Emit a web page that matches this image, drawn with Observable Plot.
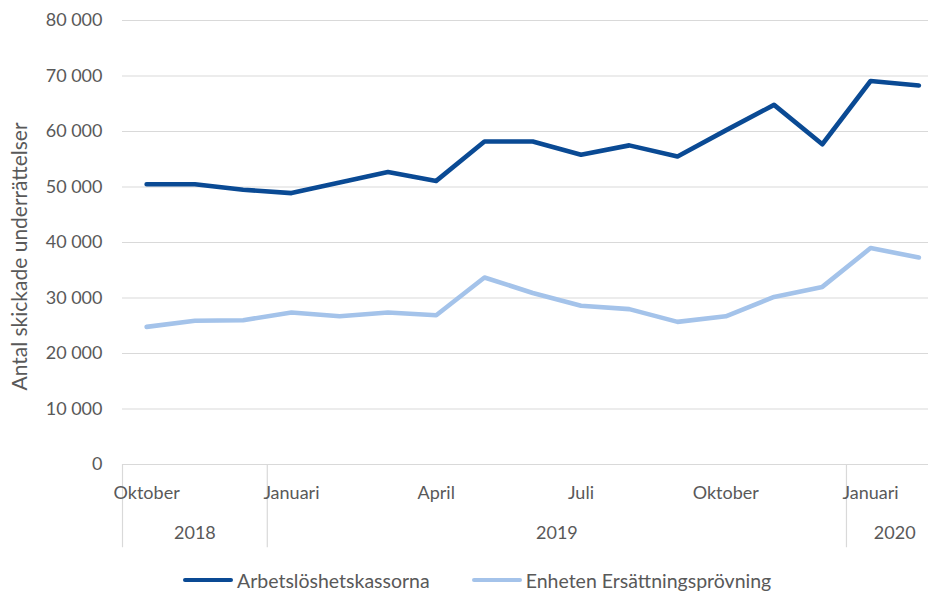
<!DOCTYPE html>
<html><head><meta charset="utf-8">
<script src="https://cdn.jsdelivr.net/npm/d3@7"></script>
<script src="https://cdn.jsdelivr.net/npm/@observablehq/plot@0.6"></script>
<style>
body{margin:0;background:#fff;font-family:Lato,"Open Sans",sans-serif;}
#legend{display:flex;align-items:center;padding-left:183px;height:24px;margin-top:8px;font-size:19.5px;color:#595959;}
.item{display:flex;align-items:center;}
.swatch{width:50px;height:4.5px;border-radius:2px;margin-right:4px;}
</style>
</head><body>
<div id="chart"></div>
<div id="legend"></div>
<script>
const months = ["Oktober","November","December","Januari","Februari","Mars","April","Maj","Juni","Juli","Augusti","September","Oktober","November","December","Januari","Februari"];
const monthYears = [2018,2018,2018,2019,2019,2019,2019,2019,2019,2019,2019,2019,2019,2019,2019,2020,2020];
const arbetsloshetskassorna = [50500,50500,49500,48900,50800,52700,51100,58200,58200,55800,57500,55500,60200,64800,57700,69100,68300];
const ersattningsprovning = [24800,25900,26000,27400,26700,27400,26900,33700,30900,28600,28000,25700,26700,30200,32000,39000,37300];
const seriesNames = ["Arbetslöshetskassorna","Enheten Ersättningsprövning"];
const seriesColors = ["#0A4A94","#A4C3EA"];
const shownMonthTicks = [0,3,6,9,12,15];
const yTicks = [0,10000,20000,30000,40000,50000,60000,70000,80000];
const yLabel = "Antal skickade underrättelser";

const rows = [];
months.forEach((m,i)=>{
  rows.push({i, series: seriesNames[0], value: arbetsloshetskassorna[i]});
  rows.push({i, series: seriesNames[1], value: ersattningsprovning[i]});
});
const yearList = Array.from(new Set(monthYears));
const yearGroups = yearList.map(y=>{
  const idx = monthYears.map((v,i)=>v===y?i:-1).filter(i=>i>=0);
  return {year: String(y), start: idx[0]-0.5, center: (idx[0]+idx[idx.length-1])/2};
});
const fmt = v => d3.format(",")(v).replace(/,/g,"\u00a0");

const chart = Plot.plot({
  width: 929, height: 560,
  marginLeft: 122, marginRight: 1, marginTop: 20, marginBottom: 96,
  style: {fontFamily: "Lato, 'Open Sans', sans-serif", fontSize: "18px", color: "#595959", background: "#fff"},
  x: {type: "linear", domain: [-0.5, 16.2]},
  y: {domain: [0, 80000]},
  color: {domain: seriesNames, range: seriesColors},
  marks: [
    Plot.ruleY(yTicks, {stroke: "#d9d9d9", strokeWidth: 1.2}),
    Plot.ruleX(yearGroups, {x: "start", y1: 0, y2: -15000, stroke: "#d9d9d9", strokeWidth: 1.2, clip: false}),
    Plot.axisY({ticks: yTicks, tickFormat: fmt, tickSize: 0, tickPadding: 20, label: null, fill: "#595959", fontSize: 18}),
    Plot.axisX({ticks: shownMonthTicks, tickFormat: i => months[i], tickSize: 0, tickPadding: 22, label: null, fill: "#595959", fontSize: 18}),
    Plot.text(yearGroups, {x: "center", y: 0, dy: 69, text: "year", fill: "#595959", fontSize: 18, clip: false}),
    Plot.text([yLabel], {frameAnchor: "left", textAnchor: "middle", rotate: -90, dx: -102, dy: 14, text: d=>d, fill: "#595959", fontSize: 21}),
    Plot.line(rows, {x: "i", y: "value", z: "series", stroke: "series", strokeWidth: 4.6, strokeLinejoin: "round", strokeLinecap: "round"})
  ]
});
document.getElementById("chart").append(chart);

const legend = document.getElementById("legend");
seriesNames.forEach((n,k)=>{
  const it = document.createElement("div");
  it.className = "item";
  if (k>0) it.style.marginLeft = "42px";
  const sw = document.createElement("div");
  sw.className = "swatch"; sw.style.background = seriesColors[k];
  const t = document.createElement("span"); t.textContent = n;
  it.append(sw, t); legend.append(it);
});
</script>
</body></html>
